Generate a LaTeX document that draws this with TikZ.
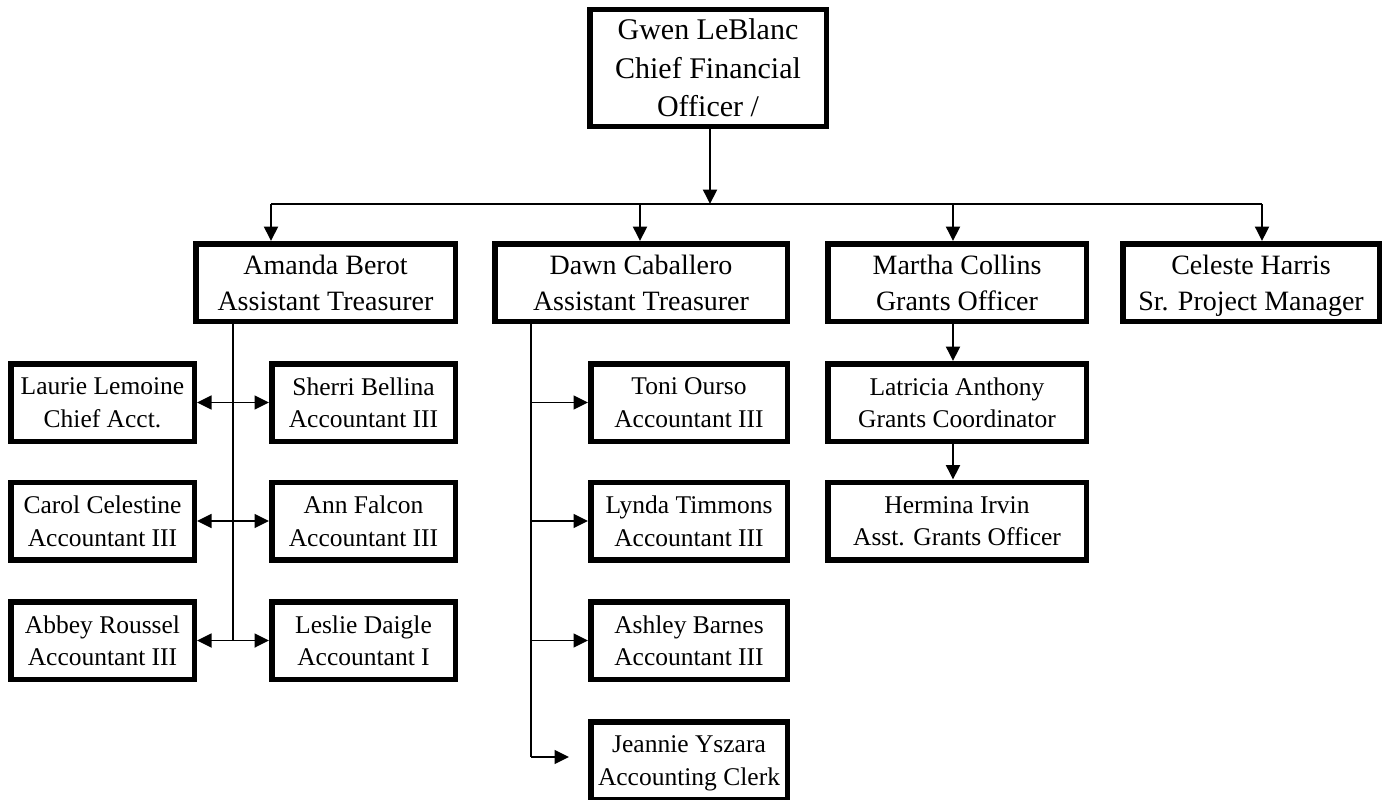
\documentclass[tikz,border=0pt]{standalone}
\usepackage{fontspec}
\setmainfont{Liberation Serif}
\usetikzlibrary{arrows.meta}
\tikzset{
  box/.style={draw, line width=5.5pt, inner sep=0pt, align=center, minimum height=77.5pt,
    text depth=0pt, font=\fontsize{25.5}{32.6}\selectfont},
  topbox/.style={box, font=\fontsize{28}{36}\selectfont},
  ceo/.style={box, minimum height=116.5pt, minimum width=236.5pt, font=\fontsize{30}{38.5}\selectfont},
  wsmall/.style={minimum width=183.5pt},
  wmid/.style={minimum width=196.5pt},
  wwide/.style={minimum width=258.5pt},
  conn/.style={line width=2pt},
  thin/.style={line width=1.6pt},
  tip/.tip={Triangle[length=14.5pt,width=14pt]},
  arr/.style={-tip, line width=2pt},
  arrthin/.style={-tip, line width=1.6pt},
  dbl/.style={tip-tip, line width=1.8pt},
}
\begin{document}
\begin{tikzpicture}[x=1pt,y=-1pt]
\useasboundingbox (0,0) rectangle (1384,800);
% boxes
\node[ceo] (gwen) at (708,68) {Gwen LeBlanc\\Chief Financial\\Officer /};
\node[topbox, minimum width=259.5pt] (amanda) at (325.5,282.5) {Amanda Berot\\Assistant Treasurer};
\node[topbox, minimum width=292.5pt] (dawn) at (641,282.5) {Dawn Caballero\\Assistant Treasurer};
\node[topbox, minimum width=258.5pt] (martha) at (957,282.5) {Martha Collins\\Grants Officer};
\node[topbox, minimum width=256.5pt] (celeste) at (1251,282.5) {Celeste Harris\\Sr. Project Manager};
% Amanda group
\node[box, wsmall] (laurie) at (102.5,402.5) {Laurie Lemoine\\Chief Acct.};
\node[box, wsmall] (sherri) at (363.5,402.5) {Sherri Bellina\\Accountant III};
\node[box, wsmall] (carol) at (102.5,521) {Carol Celestine\\Accountant III};
\node[box, wsmall] (ann) at (363.5,521) {Ann Falcon\\Accountant III};
\node[box, wsmall] (abbey) at (102.5,640.5) {Abbey Roussel\\Accountant III};
\node[box, wsmall] (leslie) at (363.5,640.5) {Leslie Daigle\\Accountant I};
% Dawn group
\node[box, wmid] (toni) at (689,402.5) {Toni Ourso\\Accountant III};
\node[box, wmid] (lynda) at (689,521) {Lynda Timmons\\Accountant III};
\node[box, wmid] (ashley) at (689,640.5) {Ashley Barnes\\Accountant III};
\node[box, wmid] (jeannie) at (689,760.5) {Jeannie Yszara\\Accounting Clerk};
% Martha group
\node[box, wwide] (latricia) at (957,402.5) {Latricia Anthony\\Grants Coordinator};
\node[box, wwide] (hermina) at (957,521) {Hermina Irvin\\Asst. Grants Officer};

% bus
\coordinate (busC) at (710,204);
\coordinate (busA) at (271,204);
\coordinate (busD) at (640,204);
\coordinate (busM) at (953,204);
\coordinate (busH) at (1262,204);
\draw[arr] (gwen.south -| busC) -- (busC);
\draw[conn] (busA) -- (busH);
\draw[arr] (busA) -- (busA |- amanda.north);
\draw[arr] (busD) -- (busD |- dawn.north);
\draw[arr] (busM) -- (busM |- martha.north);
\draw[arr] (busH) -- (busH |- celeste.north);

% Amanda vertical
\coordinate (aTop) at (233,324);
\coordinate (aBot) at (233,640);
\draw[line width=2.4pt] (aTop) -- (aBot);
\draw[dbl] (laurie.east) -- (sherri.west);
\draw[dbl] (carol.east) -- (ann.west);
\draw[dbl] (abbey.east) -- (leslie.west);

% Dawn vertical
\coordinate (dTop) at (531,324);
\coordinate (dBot) at (531,757);
\coordinate (jTip) at (569,757);
\draw[thin] (dTop) -- (dBot);
\draw[arrthin] (dTop |- toni.west) -- (toni.west);
\draw[arrthin] (dTop |- lynda.west) -- (lynda.west);
\draw[arrthin] (dTop |- ashley.west) -- (ashley.west);
\draw[arrthin] (dBot) -- (jTip);

% Martha chain
\draw[arr] (martha.south -| busM) -- (latricia.north -| busM);
\draw[arr] (latricia.south -| busM) -- (hermina.north -| busM);
\end{tikzpicture}
\end{document}
